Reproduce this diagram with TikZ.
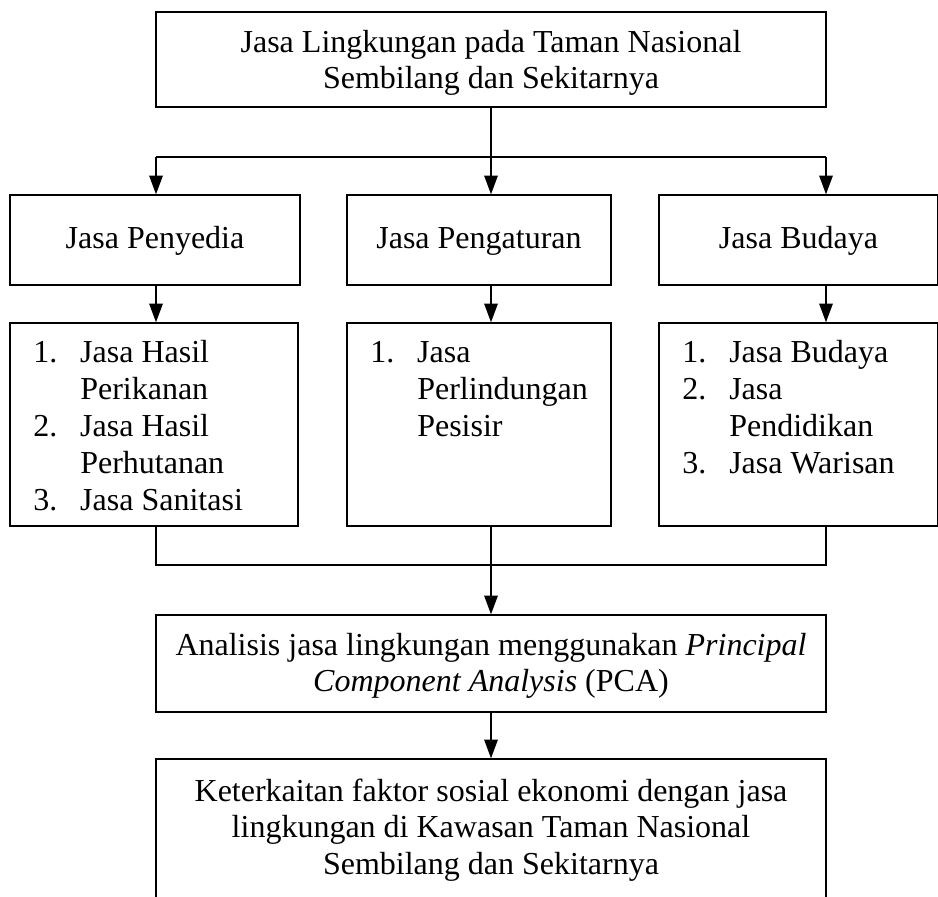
\documentclass[tikz,border=0pt]{standalone}
\usepackage{fontspec}
\setmainfont{Liberation Serif}
\usetikzlibrary{arrows.meta}
\begin{document}
\begin{tikzpicture}[x=0.75pt,y=-0.75pt,
  font=\fontsize{24}{27.6}\selectfont,
  box/.style={draw, line width=1pt, inner sep=0pt},
  txt/.style={align=center, inner sep=0pt, anchor=base},
  conn/.style={line width=1.4pt},
  arr/.style={conn, -{Triangle[length=14pt,width=10pt]}},
  lst/.style={anchor=base west, inner sep=0pt, align=left}]
\useasboundingbox (0,0) rectangle (938,896);
% boxes
\node[box, minimum width={670*0.75pt}, minimum height={95*0.75pt}] (top) at (491,59.5) {};
\node[box, minimum width={290*0.75pt}, minimum height={90*0.75pt}] (r2l) at (155,240) {};
\node[box, minimum width={264*0.75pt}, minimum height={90*0.75pt}] (r2m) at (479,240) {};
\node[box, minimum width={279*0.75pt}, minimum height={90*0.75pt}] (r2r) at (798.5,240) {};
\node[box, minimum width={288*0.75pt}, minimum height={203*0.75pt}] (r3l) at (154,424.5) {};
\node[box, minimum width={264*0.75pt}, minimum height={203*0.75pt}] (r3m) at (479,424.5) {};
\node[box, minimum width={279*0.75pt}, minimum height={203*0.75pt}] (r3r) at (798.5,424.5) {};
\node[box, minimum width={670*0.75pt}, minimum height={97*0.75pt}] (pca) at (491,663.5) {};
\node[box, minimum width={670*0.75pt}, minimum height={142*0.75pt}] (bot) at (491,830) {};
% texts
\node[txt] (topt1) at (491,52) {Jasa Lingkungan pada Taman Nasional};
\node[txt] (topt2) at (491,88.8) {Sembilang dan Sekitarnya};
\node[txt] (r2lt) at (155,248) {Jasa Penyedia};
\node[txt] (r2mt) at (479,248) {Jasa Pengaturan};
\node[txt] (r2rt) at (798.5,248) {Jasa Budaya};
\node[lst] (t3l) at (33,510) {\makebox[35.25pt][l]{1.}Jasa Hasil\\\hspace*{35.25pt}Perikanan\\\makebox[35.25pt][l]{2.}Jasa Hasil\\\hspace*{35.25pt}Perhutanan\\\makebox[35.25pt][l]{3.}Jasa Sanitasi};
\node[lst] (t3m) at (370,436.5) {\makebox[35.25pt][l]{1.}Jasa\\\hspace*{35.25pt}Perlindungan\\\hspace*{35.25pt}Pesisir};
\node[lst] (t3r) at (682,473.25) {\makebox[35.25pt][l]{1.}Jasa Budaya\\\makebox[35.25pt][l]{2.}Jasa\\\hspace*{35.25pt}Pendidikan\\\makebox[35.25pt][l]{3.}Jasa Warisan};
\node[txt] (pcat1) at (491,655) {Analisis jasa lingkungan menggunakan \textit{Principal}};
\node[txt] (pcat2) at (491,691.8) {\textit{Component Analysis} (PCA)};
\node[txt] (bott1) at (491,801) {Keterkaitan faktor sosial ekonomi dengan jasa};
\node[txt] (bott2) at (491,837.8) {lingkungan di Kawasan Taman Nasional};
\node[txt] (bott3) at (491,874.6) {Sembilang dan Sekitarnya};
% connectors
\coordinate (jl) at (156,157);
\coordinate (jm) at (491,157);
\coordinate (jr) at (826,157);
\coordinate (bl) at (156,565);
\coordinate (br) at (826,565);
\draw[conn] (top.south) -- (jm);
\draw[conn] (jl) -- (jr);
\draw[arr] (jl) -- (jl |- r2l.north);
\draw[arr] (jm) -- (jm |- r2m.north);
\draw[arr] (jr) -- (jr |- r2r.north);
\draw[arr] (r2l.south -| jl) -- (r3l.north -| jl);
\draw[arr] (r2m.south -| jm) -- (r3m.north -| jm);
\draw[arr] (r2r.south -| jr) -- (r3r.north -| jr);
\draw[conn] (r3l.south -| jl) -- (bl) -- (br) -- (r3r.south -| jr);
\draw[arr] (r3m.south -| jm) -- (pca.north);
\draw[arr] (pca.south) -- (bot.north);
\end{tikzpicture}
\end{document}
